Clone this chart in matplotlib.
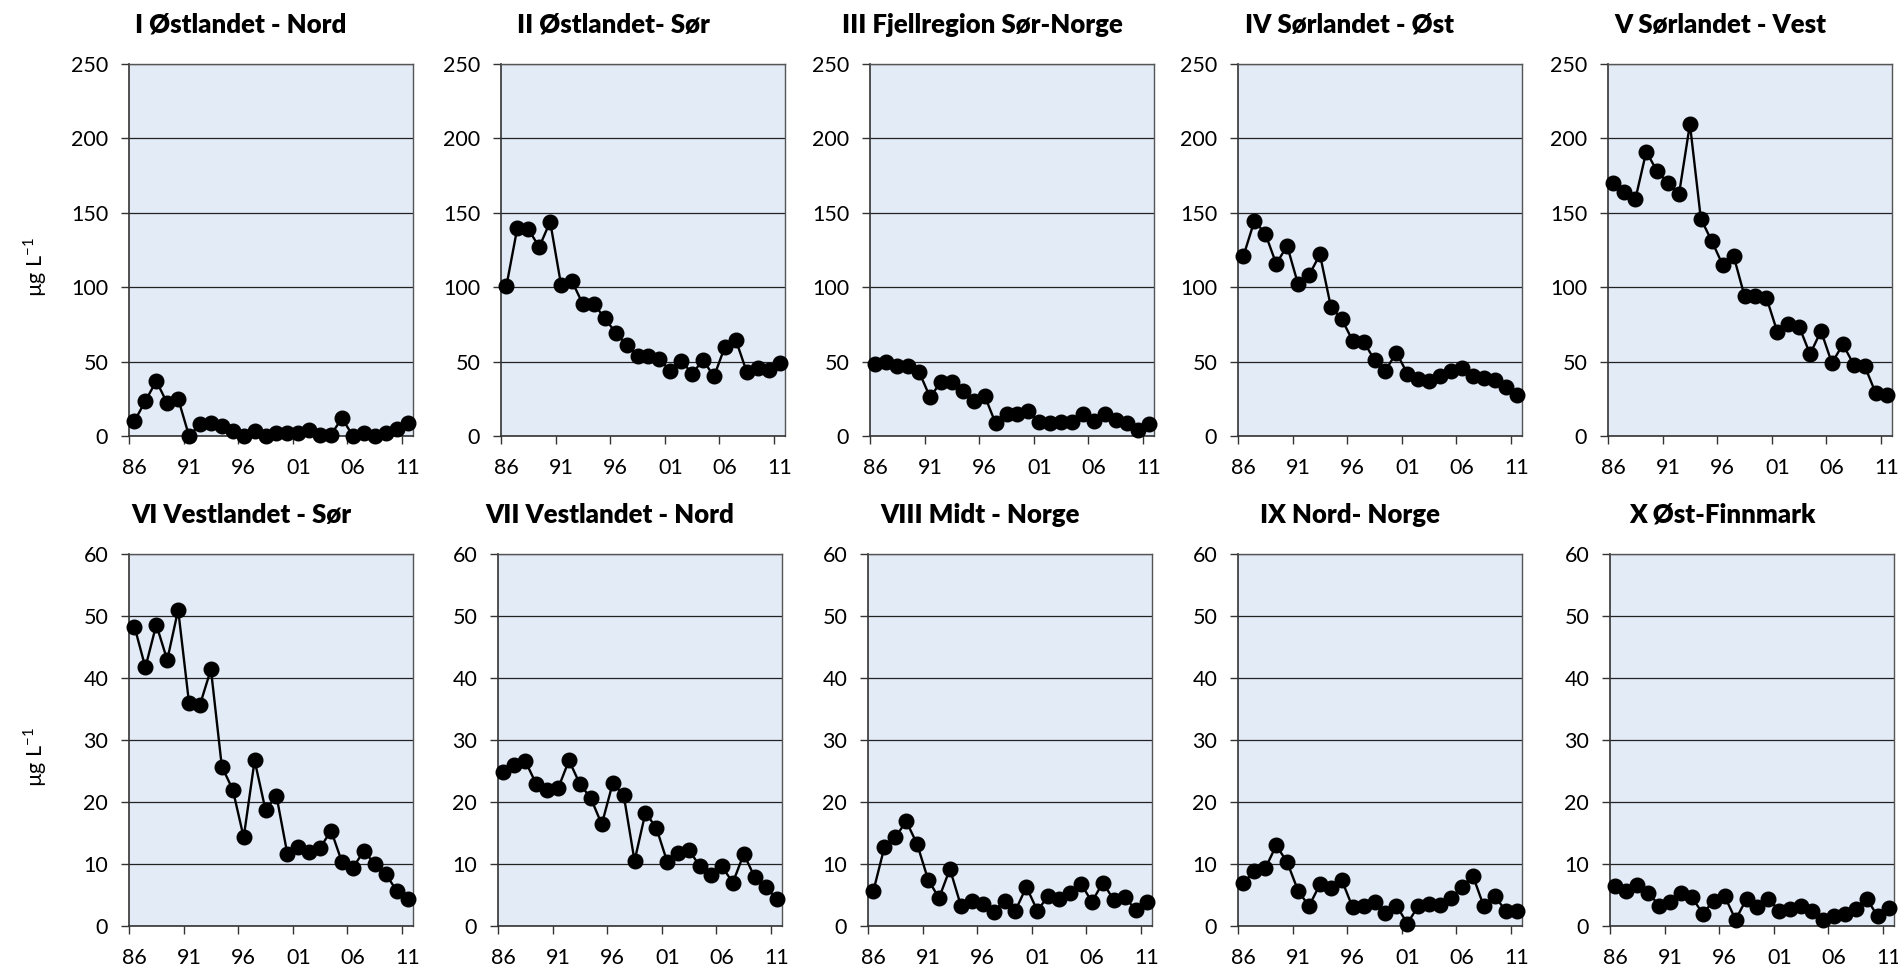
import matplotlib
matplotlib.use("Agg")
import matplotlib.pyplot as plt

plt.rcParams['font.family'] = ['Lato', 'DejaVu Sans']
plt.rcParams['axes.unicode_minus'] = False

years = list(range(1986, 2012))
year_labels = ['86', '91', '96', '01', '06', '11']

titles = ['I Østlandet - Nord', 'II Østlandet- Sør', 'III Fjellregion Sør-Norge',
          'IV Sørlandet - Øst', 'V Sørlandet - Vest',
          'VI Vestlandet - Sør', 'VII Vestlandet - Nord', 'VIII Midt - Norge',
          'IX Nord- Norge', 'X Øst-Finnmark']

ostlandet_nord = [10, 23.5, 37, 22, 25, 0, 8, 9, 7, 3.5, 0, 3.5, 0, 2, 2, 2, 4, 1, 1, 12,
                  0, 2, 0, 2, 4.5, 9]
ostlandet_sor = [101, 140, 139, 127, 144, 101.5, 104, 88.5, 89, 79, 69.5, 61, 54, 54, 51.5,
                 44, 50.5, 42, 51, 40, 60, 64.5, 43, 45.5, 44.5, 49]
fjellregion = [48.4, 50, 47, 47, 43, 26, 36.5, 36.5, 30, 23.5, 27, 8.5, 14.5, 15, 17, 9.5,
               8.5, 9.5, 9.5, 14.5, 10, 14.5, 11, 8.5, 4, 8]
sorlandet_ost = [121, 144.6, 136, 115.7, 127.8, 102, 108, 122, 87, 78.5, 64, 63.5, 51, 44,
                 56, 42, 38, 37, 40, 44, 46, 40.5, 39, 37.5, 33, 27.5]
sorlandet_vest = [170, 164, 159, 191, 178, 170, 162.5, 209.6, 146, 131, 115, 121, 94, 94,
                  93, 70, 75, 73.5, 55, 70.6, 49, 61.6, 48, 47, 29, 27.5]
vestlandet_sor = [48.3, 41.7, 48.6, 42.9, 51, 35.9, 35.7, 41.4, 25.7, 22, 14.3, 26.7, 18.7,
                  21, 11.6, 12.8, 11.9, 12.6, 15.4, 10.3, 9.4, 12.1, 10, 8.4, 5.7, 4.3]
vestlandet_nord = [24.8, 25.9, 26.6, 22.9, 21.9, 22.2, 26.7, 22.9, 20.6, 16.4, 23, 21.2,
                   10.5, 18.3, 15.8, 10.3, 11.8, 12.2, 9.6, 8.2, 9.6, 7, 11.6, 7.9, 6.3, 4.4]
midt_norge = [5.7, 12.7, 14.3, 16.9, 13.2, 7.5, 4.5, 9.2, 3.3, 4, 3.5, 2.3, 4.1, 2.5, 6.3,
              2.5, 4.8, 4.4, 5.3, 6.8, 3.9, 7, 4.2, 4.7, 2.6, 3.8]
nord_norge = [7, 8.8, 9.3, 13, 10.3, 5.7, 3.2, 6.7, 6.2, 7.4, 3, 3.2, 3.9, 2.1, 3.3, 0.4,
              3.2, 3.5, 3.4, 4.5, 6.3, 8.1, 3.2, 4.8, 2.5, 2.5]
ost_finnmark = [6.4, 5.7, 6.6, 5.4, 3.3, 3.8, 5.4, 4.6, 2, 4.1, 4.8, 1, 4.4, 3, 4.4, 2.5,
                2.8, 3.3, 2.5, 0.9, 1.6, 2, 2.8, 4.4, 1.6, 2.9]

series = [ostlandet_nord, ostlandet_sor, fjellregion, sorlandet_ost, sorlandet_vest,
          vestlandet_sor, vestlandet_nord, midt_norge, nord_norge, ost_finnmark]

W, H = 1899, 969
fig = plt.figure(figsize=(W / 100, H / 100), dpi=100)

lefts_top = [129, 501, 870, 1238, 1608]
lefts_bot = [129, 498, 868, 1238, 1610]
aw = 284
ah = 372

for k in range(10):
    row = k // 5
    col = k % 5
    if row == 0:
        left = lefts_top[col]
        top = 64
        ymax, ystep = 250, 50
    else:
        left = lefts_bot[col]
        top = 554
        ymax, ystep = 60, 10
    ax = fig.add_axes([left / W, (H - top - ah) / H, aw / W, ah / H])
    ax.set_facecolor('#E3EBF7')

    xs = [i + 0.5 for i in range(len(years))]
    ax.plot(xs, series[k], color='black', lw=1.7, marker='o', markersize=10.5,
            clip_on=False, zorder=3)

    ax.set_xlim(0, 26)
    ax.set_ylim(0, ymax)
    ax.set_yticks(range(0, ymax + 1, ystep))
    ax.yaxis.grid(True, color='#222222', lw=0.9)
    ax.set_axisbelow(True)

    ax.set_xticks([0, 5, 10, 15, 20, 25])
    ax.set_xticklabels([])
    ax.set_xticks([0.5, 5.5, 10.5, 15.5, 20.5, 25.5], minor=True)
    ax.set_xticklabels(year_labels, minor=True)
    ax.tick_params(axis='x', which='major', length=6, width=1, color='#333333')
    ax.tick_params(axis='x', which='minor', length=0, pad=16, labelsize=15.5)
    ax.tick_params(axis='y', length=6, width=1, color='#333333', pad=9, labelsize=15.5)

    for s in ['top', 'right']:
        ax.spines[s].set_color('#555555')
        ax.spines[s].set_linewidth(1)
    for s in ['left', 'bottom']:
        ax.spines[s].set_color('#333333')
        ax.spines[s].set_linewidth(1.2)

    ax.text(0.5 - 30 / aw, 1 + 39 / ah, titles[k], transform=ax.transAxes,
            ha='center', va='center', fontsize=18.5, fontweight='heavy')

    if col == 0:
        fig.text(35 / W, (H - top - ah / 2 - 17) / H, 'µg L$^{\\mathregular{-1}}$',
                 rotation=90, ha='center', va='center', fontsize=15.5)

fig.savefig('out.png', dpi=100)
